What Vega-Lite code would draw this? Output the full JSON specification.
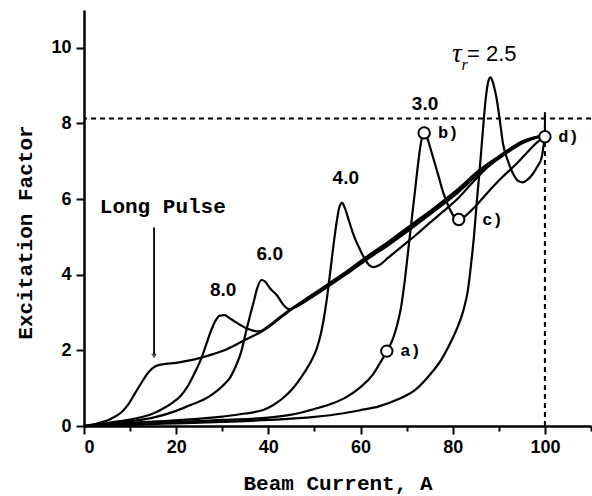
{
  "$schema": "https://vega.github.io/schema/vega-lite/v6.json",
  "width": 507,
  "height": 416,
  "autosize": {"type": "none"},
  "padding": {"left": 84, "top": 10, "right": 1, "bottom": 70},
  "background": "white",
  "config": {"view": {"stroke": null}},
  "datasets": {
    "curves": [
      {"s": "LP", "x": 0, "y": 0}, {"s": "LP", "x": 3, "y": 0.07}, {"s": "LP", "x": 6, "y": 0.2}, {"s": "LP", "x": 8, "y": 0.35},
      {"s": "LP", "x": 9.5, "y": 0.55}, {"s": "LP", "x": 11, "y": 0.85}, {"s": "LP", "x": 12.5, "y": 1.15}, {"s": "LP", "x": 14, "y": 1.42},
      {"s": "LP", "x": 15.5, "y": 1.58}, {"s": "LP", "x": 17, "y": 1.63}, {"s": "LP", "x": 20, "y": 1.67}, {"s": "LP", "x": 24, "y": 1.76},
      {"s": "LP", "x": 28, "y": 1.9}, {"s": "LP", "x": 31, "y": 2.03}, {"s": "LP", "x": 35, "y": 2.28}, {"s": "LP", "x": 39, "y": 2.53},
      {"s": "LP", "x": 42, "y": 2.8}, {"s": "LP", "x": 45, "y": 3.08}, {"s": "LP", "x": 49, "y": 3.4}, {"s": "LP", "x": 53, "y": 3.72},
      {"s": "LP", "x": 57, "y": 4.05}, {"s": "LP", "x": 61, "y": 4.4}, {"s": "LP", "x": 66, "y": 4.82}, {"s": "LP", "x": 71, "y": 5.27},
      {"s": "LP", "x": 76, "y": 5.72}, {"s": "LP", "x": 81, "y": 6.2}, {"s": "LP", "x": 86, "y": 6.75}, {"s": "LP", "x": 90, "y": 7.1},
      {"s": "LP", "x": 95, "y": 7.5}, {"s": "LP", "x": 100, "y": 7.7},

      {"s": "8.0", "x": 0, "y": 0}, {"s": "8.0", "x": 5, "y": 0.08}, {"s": "8.0", "x": 10, "y": 0.17}, {"s": "8.0", "x": 13, "y": 0.25},
      {"s": "8.0", "x": 15, "y": 0.33}, {"s": "8.0", "x": 17, "y": 0.45}, {"s": "8.0", "x": 19, "y": 0.6}, {"s": "8.0", "x": 21, "y": 0.8},
      {"s": "8.0", "x": 22.5, "y": 1.05}, {"s": "8.0", "x": 24, "y": 1.4}, {"s": "8.0", "x": 25.5, "y": 1.8}, {"s": "8.0", "x": 26.5, "y": 2.15},
      {"s": "8.0", "x": 27.5, "y": 2.5}, {"s": "8.0", "x": 28.5, "y": 2.78}, {"s": "8.0", "x": 29.5, "y": 2.92}, {"s": "8.0", "x": 30.5, "y": 2.93},
      {"s": "8.0", "x": 31.5, "y": 2.86}, {"s": "8.0", "x": 33, "y": 2.74}, {"s": "8.0", "x": 35, "y": 2.6}, {"s": "8.0", "x": 36.5, "y": 2.53},
      {"s": "8.0", "x": 38, "y": 2.5}, {"s": "8.0", "x": 40, "y": 2.64}, {"s": "8.0", "x": 42, "y": 2.83}, {"s": "8.0", "x": 45, "y": 3.1},
      {"s": "8.0", "x": 49, "y": 3.43}, {"s": "8.0", "x": 53, "y": 3.76}, {"s": "8.0", "x": 57, "y": 4.09}, {"s": "8.0", "x": 61, "y": 4.45},
      {"s": "8.0", "x": 66, "y": 4.87}, {"s": "8.0", "x": 71, "y": 5.32}, {"s": "8.0", "x": 76, "y": 5.77}, {"s": "8.0", "x": 81, "y": 6.25},
      {"s": "8.0", "x": 86, "y": 6.79}, {"s": "8.0", "x": 90, "y": 7.13}, {"s": "8.0", "x": 95, "y": 7.52}, {"s": "8.0", "x": 100, "y": 7.7},

      {"s": "6.0", "x": 0, "y": 0}, {"s": "6.0", "x": 10, "y": 0.12}, {"s": "6.0", "x": 15, "y": 0.22}, {"s": "6.0", "x": 20, "y": 0.4},
      {"s": "6.0", "x": 23, "y": 0.55}, {"s": "6.0", "x": 26, "y": 0.7}, {"s": "6.0", "x": 28, "y": 0.85}, {"s": "6.0", "x": 30, "y": 1.05},
      {"s": "6.0", "x": 31.8, "y": 1.3}, {"s": "6.0", "x": 33, "y": 1.6}, {"s": "6.0", "x": 34, "y": 1.92}, {"s": "6.0", "x": 35.4, "y": 2.62},
      {"s": "6.0", "x": 36.2, "y": 3.0}, {"s": "6.0", "x": 36.9, "y": 3.32}, {"s": "6.0", "x": 37.6, "y": 3.65}, {"s": "6.0", "x": 38.5, "y": 3.86},
      {"s": "6.0", "x": 39.3, "y": 3.82}, {"s": "6.0", "x": 40.3, "y": 3.65}, {"s": "6.0", "x": 41.9, "y": 3.45}, {"s": "6.0", "x": 43.3, "y": 3.2},
      {"s": "6.0", "x": 44.5, "y": 3.09}, {"s": "6.0", "x": 46, "y": 3.15}, {"s": "6.0", "x": 49, "y": 3.37}, {"s": "6.0", "x": 53, "y": 3.69},
      {"s": "6.0", "x": 57, "y": 4.02}, {"s": "6.0", "x": 61, "y": 4.37}, {"s": "6.0", "x": 66, "y": 4.78}, {"s": "6.0", "x": 71, "y": 5.22},
      {"s": "6.0", "x": 76, "y": 5.68}, {"s": "6.0", "x": 81, "y": 6.16}, {"s": "6.0", "x": 86, "y": 6.71}, {"s": "6.0", "x": 90, "y": 7.07},
      {"s": "6.0", "x": 95, "y": 7.47}, {"s": "6.0", "x": 100, "y": 7.68},

      {"s": "4.0", "x": 0, "y": 0}, {"s": "4.0", "x": 10, "y": 0.08}, {"s": "4.0", "x": 20, "y": 0.15}, {"s": "4.0", "x": 30, "y": 0.25},
      {"s": "4.0", "x": 35, "y": 0.33}, {"s": "4.0", "x": 39, "y": 0.43}, {"s": "4.0", "x": 41, "y": 0.55}, {"s": "4.0", "x": 43, "y": 0.72},
      {"s": "4.0", "x": 45, "y": 0.95}, {"s": "4.0", "x": 46.5, "y": 1.18}, {"s": "4.0", "x": 48, "y": 1.45}, {"s": "4.0", "x": 49.3, "y": 1.72},
      {"s": "4.0", "x": 50.5, "y": 2.05}, {"s": "4.0", "x": 51.5, "y": 2.5}, {"s": "4.0", "x": 52.5, "y": 3.2}, {"s": "4.0", "x": 53.3, "y": 3.95},
      {"s": "4.0", "x": 54.1, "y": 4.75}, {"s": "4.0", "x": 54.8, "y": 5.38}, {"s": "4.0", "x": 55.4, "y": 5.78}, {"s": "4.0", "x": 56, "y": 5.9},
      {"s": "4.0", "x": 56.6, "y": 5.76}, {"s": "4.0", "x": 57.5, "y": 5.42}, {"s": "4.0", "x": 58.5, "y": 5.05}, {"s": "4.0", "x": 59.9, "y": 4.66},
      {"s": "4.0", "x": 61, "y": 4.4}, {"s": "4.0", "x": 62, "y": 4.24}, {"s": "4.0", "x": 62.8, "y": 4.2}, {"s": "4.0", "x": 64, "y": 4.25},
      {"s": "4.0", "x": 66, "y": 4.45}, {"s": "4.0", "x": 69, "y": 4.75}, {"s": "4.0", "x": 72, "y": 5.05},
      {"s": "4.0", "x": 75, "y": 5.37}, {"s": "4.0", "x": 78, "y": 5.68}, {"s": "4.0", "x": 81, "y": 6.0}, {"s": "4.0", "x": 84, "y": 6.4},
      {"s": "4.0", "x": 87, "y": 6.78}, {"s": "4.0", "x": 90, "y": 7.08}, {"s": "4.0", "x": 95, "y": 7.49}, {"s": "4.0", "x": 100, "y": 7.69},

      {"s": "3.0", "x": 0, "y": 0}, {"s": "3.0", "x": 10, "y": 0.05}, {"s": "3.0", "x": 20, "y": 0.1}, {"s": "3.0", "x": 30, "y": 0.16},
      {"s": "3.0", "x": 40, "y": 0.22}, {"s": "3.0", "x": 45, "y": 0.3}, {"s": "3.0", "x": 50, "y": 0.45}, {"s": "3.0", "x": 54, "y": 0.6},
      {"s": "3.0", "x": 57, "y": 0.77}, {"s": "3.0", "x": 60, "y": 1.03}, {"s": "3.0", "x": 62.5, "y": 1.33}, {"s": "3.0", "x": 64, "y": 1.62},
      {"s": "3.0", "x": 65.7, "y": 1.98}, {"s": "3.0", "x": 67, "y": 2.3}, {"s": "3.0", "x": 68, "y": 2.7}, {"s": "3.0", "x": 68.8, "y": 3.15},
      {"s": "3.0", "x": 69.5, "y": 3.75}, {"s": "3.0", "x": 70.3, "y": 4.6}, {"s": "3.0", "x": 71, "y": 5.35}, {"s": "3.0", "x": 71.8, "y": 6.2},
      {"s": "3.0", "x": 72.5, "y": 6.95}, {"s": "3.0", "x": 73.2, "y": 7.55}, {"s": "3.0", "x": 73.8, "y": 7.75}, {"s": "3.0", "x": 74.5, "y": 7.6},
      {"s": "3.0", "x": 75.5, "y": 7.2}, {"s": "3.0", "x": 76.7, "y": 6.7}, {"s": "3.0", "x": 78, "y": 6.15}, {"s": "3.0", "x": 79.3, "y": 5.75},
      {"s": "3.0", "x": 80.3, "y": 5.53}, {"s": "3.0", "x": 81.3, "y": 5.46}, {"s": "3.0", "x": 82.5, "y": 5.53}, {"s": "3.0", "x": 85, "y": 5.82},
      {"s": "3.0", "x": 87.4, "y": 6.15}, {"s": "3.0", "x": 90.5, "y": 6.55}, {"s": "3.0", "x": 93.9, "y": 6.94}, {"s": "3.0", "x": 96.5, "y": 7.28},
      {"s": "3.0", "x": 98.3, "y": 7.5}, {"s": "3.0", "x": 100, "y": 7.65},

      {"s": "2.5", "x": 0, "y": 0}, {"s": "2.5", "x": 10, "y": 0.03}, {"s": "2.5", "x": 20, "y": 0.07}, {"s": "2.5", "x": 30, "y": 0.11},
      {"s": "2.5", "x": 40, "y": 0.16}, {"s": "2.5", "x": 50, "y": 0.24}, {"s": "2.5", "x": 56, "y": 0.33}, {"s": "2.5", "x": 60, "y": 0.42},
      {"s": "2.5", "x": 64, "y": 0.52}, {"s": "2.5", "x": 68, "y": 0.7}, {"s": "2.5", "x": 72, "y": 0.97}, {"s": "2.5", "x": 75, "y": 1.35},
      {"s": "2.5", "x": 77.5, "y": 1.75}, {"s": "2.5", "x": 79.5, "y": 2.2}, {"s": "2.5", "x": 81, "y": 2.6}, {"s": "2.5", "x": 82.3, "y": 3.05},
      {"s": "2.5", "x": 83.3, "y": 3.6}, {"s": "2.5", "x": 84, "y": 4.3}, {"s": "2.5", "x": 84.6, "y": 5.0}, {"s": "2.5", "x": 85.2, "y": 5.9},
      {"s": "2.5", "x": 85.9, "y": 6.85}, {"s": "2.5", "x": 86.6, "y": 7.9}, {"s": "2.5", "x": 87.2, "y": 8.7}, {"s": "2.5", "x": 87.7, "y": 9.1},
      {"s": "2.5", "x": 88.2, "y": 9.22}, {"s": "2.5", "x": 88.8, "y": 9.05}, {"s": "2.5", "x": 89.6, "y": 8.6}, {"s": "2.5", "x": 90.3, "y": 8.0},
      {"s": "2.5", "x": 90.9, "y": 7.47}, {"s": "2.5", "x": 92, "y": 7.0}, {"s": "2.5", "x": 93.1, "y": 6.67}, {"s": "2.5", "x": 94.2, "y": 6.48},
      {"s": "2.5", "x": 95.2, "y": 6.44}, {"s": "2.5", "x": 96.3, "y": 6.52}, {"s": "2.5", "x": 97.4, "y": 6.67}, {"s": "2.5", "x": 98.3, "y": 6.85},
      {"s": "2.5", "x": 99.3, "y": 7.1}, {"s": "2.5", "x": 99.7, "y": 7.4}, {"s": "2.5", "x": 100, "y": 7.6}
    ],
    "circles": [
      {"label": "a)", "x": 65.7, "y": 1.98, "lx": 68.6},
      {"label": "b)", "x": 73.8, "y": 7.75, "lx": 76.8},
      {"label": "c)", "x": 81.3, "y": 5.46, "lx": 86.4},
      {"label": "d)", "x": 100, "y": 7.65, "lx": 102.9}
    ],
    "taus": [
      {"t": "8.0", "x": 30.2, "y": 3.59},
      {"t": "6.0", "x": 40.3, "y": 4.56},
      {"t": "4.0", "x": 56.8, "y": 6.57},
      {"t": "3.0", "x": 74, "y": 8.52}
    ]
  },
  "layer": [
    {
      "data": {"values": [{"x": 0, "y": 0}]},
      "mark": {"type": "point", "opacity": 0},
      "encoding": {
        "x": {
          "field": "x", "type": "quantitative",
          "scale": {"domain": [0, 110], "nice": false, "zero": false},
          "axis": {
            "values": [0, 10, 20, 30, 40, 50, 60, 70, 80, 90, 100, 110],
            "labelExpr": "datum.value % 20 === 0 && datum.value <= 100 ? datum.label : ''",
            "title": "Beam Current, A",
            "titleFont": "Liberation Mono", "titleFontWeight": "bold", "titleFontSize": 21, "titleColor": "black",
            "titleY": 57, "titleBaseline": "middle",
            "labelFont": "Liberation Sans", "labelFontWeight": "bold", "labelFontSize": 18, "labelColor": "black",
            "labelPadding": 4,
            "domainColor": "black", "domainWidth": 2.5,
            "tickColor": "black", "tickWidth": 2,
            "tickSize": {"condition": {"test": "datum.value % 20 === 0", "value": 8}, "value": 5},
            "grid": false
          }
        },
        "y": {
          "field": "y", "type": "quantitative",
          "scale": {"domain": [0, 11], "nice": false, "zero": false},
          "axis": {
            "values": [0, 1, 2, 3, 4, 5, 6, 7, 8, 9, 10, 11],
            "labelExpr": "datum.value % 2 === 0 && datum.value <= 10 ? datum.label : ''",
            "title": "Excitation Factor",
            "titleFont": "Liberation Mono", "titleFontWeight": "bold", "titleFontSize": 21, "titleColor": "black",
            "titleX": -59, "titleY": 222, "titleBaseline": "middle", "titleAngle": -90,
            "labelFont": "Liberation Sans", "labelFontWeight": "bold", "labelFontSize": 18, "labelColor": "black",
            "labelPadding": 5,
            "domainColor": "black", "domainWidth": 2.5,
            "tickColor": "black", "tickWidth": 2,
            "tickSize": {"condition": {"test": "datum.value % 2 === 0", "value": 8}, "value": 5},
            "grid": false
          }
        }
      }
    },
    {
      "data": {"name": "curves"},
      "mark": {"type": "line", "interpolate": "monotone", "color": "black", "strokeWidth": 2.2, "clip": true},
      "encoding": {
        "x": {"field": "x", "type": "quantitative"},
        "y": {"field": "y", "type": "quantitative"},
        "detail": {"field": "s"}
      }
    },
    {
      "data": {"values": [{"y": 8.13}]},
      "mark": {"type": "rule", "color": "black", "strokeWidth": 2, "strokeDash": [5, 4]},
      "encoding": {"y": {"field": "y", "type": "quantitative"}}
    },
    {
      "data": {"values": [{"x": 100, "y": 0, "y2": 8.3}]},
      "mark": {"type": "rule", "color": "black", "strokeWidth": 2, "strokeDash": [5, 4]},
      "encoding": {
        "x": {"field": "x", "type": "quantitative"},
        "y": {"field": "y", "type": "quantitative"},
        "y2": {"field": "y2"}
      }
    },
    {
      "data": {"values": [{"x": 100, "y": 7.8, "y2": 8.3}]},
      "mark": {"type": "rule", "color": "black", "strokeWidth": 2},
      "encoding": {
        "x": {"field": "x", "type": "quantitative"},
        "y": {"field": "y", "type": "quantitative"},
        "y2": {"field": "y2"}
      }
    },
    {
      "data": {"values": [{"x": 15.2, "y": 1.9, "y2": 5.25}]},
      "mark": {"type": "rule", "color": "black", "strokeWidth": 1.8},
      "encoding": {
        "x": {"field": "x", "type": "quantitative"},
        "y": {"field": "y", "type": "quantitative"},
        "y2": {"field": "y2"}
      }
    },
    {
      "data": {"values": [{"x": 15.2, "y": 1.85}]},
      "mark": {"type": "point", "shape": "triangle-down", "filled": true, "color": "black", "size": 30},
      "encoding": {
        "x": {"field": "x", "type": "quantitative"},
        "y": {"field": "y", "type": "quantitative"}
      }
    },
    {
      "data": {"name": "circles"},
      "mark": {"type": "point", "shape": "circle", "filled": true, "fill": "white", "stroke": "black", "strokeWidth": 2, "size": 130, "opacity": 1},
      "encoding": {
        "x": {"field": "x", "type": "quantitative"},
        "y": {"field": "y", "type": "quantitative"}
      }
    },
    {
      "data": {"name": "circles"},
      "mark": {"type": "text", "font": "Liberation Mono", "fontWeight": "bold", "fontSize": 17, "align": "left", "baseline": "middle", "color": "black"},
      "encoding": {
        "x": {"field": "lx", "type": "quantitative"},
        "y": {"field": "y", "type": "quantitative"},
        "text": {"field": "label"}
      }
    },
    {
      "data": {"name": "taus"},
      "mark": {"type": "text", "font": "Liberation Sans", "fontWeight": "bold", "fontSize": 19, "align": "center", "baseline": "middle", "color": "black"},
      "encoding": {
        "x": {"field": "x", "type": "quantitative"},
        "y": {"field": "y", "type": "quantitative"},
        "text": {"field": "t"}
      }
    },
    {
      "data": {"values": [{"t": "Long Pulse", "x": 17.1, "y": 5.78}]},
      "mark": {"type": "text", "font": "Liberation Mono", "fontWeight": "bold", "fontSize": 21, "align": "center", "baseline": "middle", "color": "black"},
      "encoding": {
        "x": {"field": "x", "type": "quantitative"},
        "y": {"field": "y", "type": "quantitative"},
        "text": {"field": "t"}
      }
    },
    {
      "data": {"values": [{"t": "τ", "x": 80.9, "y": 9.84}]},
      "mark": {"type": "text", "font": "Liberation Serif", "fontStyle": "italic", "fontSize": 27, "align": "center", "baseline": "middle", "color": "black"},
      "encoding": {
        "x": {"field": "x", "type": "quantitative"},
        "y": {"field": "y", "type": "quantitative"},
        "text": {"field": "t"}
      }
    },
    {
      "data": {"values": [{"t": "r", "x": 82.6, "y": 9.55}]},
      "mark": {"type": "text", "font": "Liberation Serif", "fontStyle": "italic", "fontSize": 16, "align": "center", "baseline": "middle", "color": "black"},
      "encoding": {
        "x": {"field": "x", "type": "quantitative"},
        "y": {"field": "y", "type": "quantitative"},
        "text": {"field": "t"}
      }
    },
    {
      "data": {"values": [{"t": "= 2.5", "x": 83.1, "y": 9.84}]},
      "mark": {"type": "text", "font": "Liberation Sans", "fontSize": 22, "align": "left", "baseline": "middle", "color": "black"},
      "encoding": {
        "x": {"field": "x", "type": "quantitative"},
        "y": {"field": "y", "type": "quantitative"},
        "text": {"field": "t"}
      }
    }
  ]
}
